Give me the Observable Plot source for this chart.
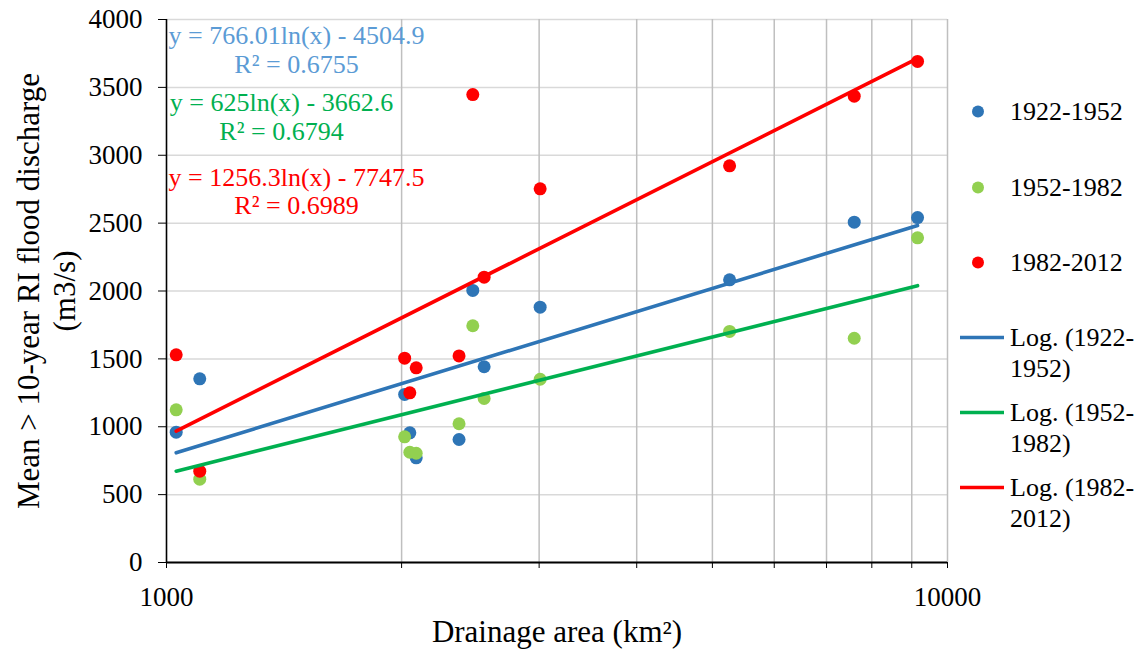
<!DOCTYPE html>
<html>
<head>
<meta charset="utf-8">
<script src="https://cdn.jsdelivr.net/npm/d3@7"></script>
<script src="https://cdn.jsdelivr.net/npm/@observablehq/plot@0.6"></script>
<style>
  html, body { margin: 0; padding: 0; background: #fff; }
  #wrap { position: relative; width: 1147px; height: 651px; font-family: "Liberation Serif", "Times New Roman", serif; color: #000; }
  #legend { position: absolute; left: 0; top: 0; width: 1147px; height: 651px; pointer-events: none; }
  .lg-item { position: absolute; font-size: 26px; line-height: 31px; white-space: nowrap; }
</style>
</head>
<body>
<div id="wrap"></div>
<script>
// ---- data ----
const areas   = [1029, 1103, 2018, 2049, 2088, 2369, 2467, 2551, 3009, 5260, 7596, 9155];
const q1922   = [960, 1353, 1238, 955, 771, 906, 2004, 1442, 1881, 2082, 2507, 2541];
const q1952   = [1125, 614, 926, 812, 805, 1022, 1744, 1208, 1350, 1702, 1652, 2392];
const q1982   = [1530, 673, 1505, 1250, 1434, 1522, 3447, 2102, 2753, 2922, 3435, 3691];

const periods = ["1922-1952", "1952-1982", "1982-2012"];
const trendLabels = ["Log. (1922-\n1952)", "Log. (1952-\n1982)", "Log. (1982-\n2012)"];

// logarithmic trend lines: endpoints (at smallest and largest drainage area)
const trendAreas = [1029, 9155];
const trend1922  = [808, 2483];
const trend1952  = [673, 2039];
const trend1982  = [967, 3713];

const equations = [
  "y = 766.01ln(x) - 4504.9\nR² = 0.6755",
  "y = 625ln(x) - 3662.6\nR² = 0.6794",
  "y = 1256.3ln(x) - 7747.5\nR² = 0.6989"
];

const yTicks = [0, 500, 1000, 1500, 2000, 2500, 3000, 3500, 4000];
const xTicks = [1000, 2000, 3000, 4000, 5000, 6000, 7000, 8000, 9000, 10000];
const xLabelled = [1000, 10000];

// ---- styles ----
const dotColors   = ["#2E75B6", "#92D050", "#FF0000"];
const lineColors  = ["#2E75B6", "#00B050", "#FF0000"];
const eqColors    = ["#5B9BD5", "#00B050", "#FF0000"];

// ---- tables ----
const seriesVals = [q1922, q1952, q1982];
const points = [];
seriesVals.forEach((vals, s) => vals.forEach((v, i) => points.push({period: periods[s], area: areas[i], q: v, s})));
const trends = [];
[trend1922, trend1952, trend1982].forEach((vals, s) => vals.forEach((v, i) => trends.push({period: periods[s], area: trendAreas[i], q: v, s})));
const eqs = equations.map((t, s) => ({t, s}));

const eqPos = [{dx: 130, dy: 30}, {dx: 115, dy: 97}, {dx: 130, dy: 171.5}];

const chart = Plot.plot({
  width: 1147,
  height: 651,
  marginLeft: 166,
  marginRight: 200,
  marginTop: 19,
  marginBottom: 89,
  style: {fontFamily: "Liberation Serif, Times New Roman, serif", fontSize: "26px", color: "#000", background: "#fff"},
  x: {type: "log", domain: [1000, 10000]},
  y: {domain: [0, 4000]},
  marks: [
    Plot.gridY(yTicks, {stroke: "#D9D9D9", strokeOpacity: 1, strokeWidth: 1.5}),
    Plot.gridX(xTicks, {stroke: "#BFBFBF", strokeOpacity: 1, strokeWidth: 1.5}),
    Plot.axisY(yTicks, {tickSize: 8, tickPadding: 16, fontSize: 27, label: null, tickFormat: d => String(d)}),
    Plot.axisX(xTicks, {tickSize: 6, tickPadding: 18, fontSize: 27, label: null,
      tickFormat: d => xLabelled.includes(d) ? String(d) : ""}),
    Plot.ruleX([1000], {stroke: "#000", strokeWidth: 1.5}),
    Plot.ruleY([0], {stroke: "#000", strokeWidth: 2}),
    ...[0, 1, 2].map(s => Plot.dot(points.filter(d => d.s === s), {x: "area", y: "q", r: 6.5, fill: dotColors[s], stroke: "none"})),
    ...[0, 1, 2].map(s => Plot.line(trends.filter(d => d.s === s), {x: "area", y: "q", stroke: lineColors[s], strokeWidth: 3.6})),
    ...[0, 1, 2].map(s => Plot.text([eqs[s]], {text: "t", frameAnchor: "top-left", textAnchor: "middle", lineAnchor: "middle",
      dx: eqPos[s].dx, dy: eqPos[s].dy, fill: eqColors[s], fontSize: 26, lineHeight: 1.08})),
    Plot.text(["Mean > 10-year RI flood discharge\n(m3/s)"], {frameAnchor: "left", rotate: -90, dx: -121, textAnchor: "middle",
      lineAnchor: "middle", fontSize: 31, lineHeight: 1.15}),
    Plot.text(["Drainage area (km²)"], {frameAnchor: "bottom", dy: 70, textAnchor: "middle", lineAnchor: "middle", fontSize: 31})
  ]
});

const wrap = document.getElementById("wrap");
wrap.appendChild(chart);

// ---- legend (right side) ----
const legend = d3.select(wrap).append("div").attr("id", "legend");
const dotRows = [111, 187, 262];
periods.forEach((p, s) => {
  const item = legend.append("div").attr("class", "lg-item")
    .style("left", "966px").style("top", (dotRows[s] - 15.5) + "px")
    .style("display", "flex").style("align-items", "center");
  item.append("svg").attr("width", 24).attr("height", 31).style("margin-right", "20px")
    .append("circle").attr("cx", 12).attr("cy", 15.5).attr("r", 6).attr("fill", dotColors[s]);
  item.append("span").text(p);
});
const lineRows = [337, 412, 487];
trendLabels.forEach((t, s) => {
  const item = legend.append("div").attr("class", "lg-item")
    .style("left", "958px").style("top", (lineRows[s] - 15.5) + "px")
    .style("display", "flex").style("align-items", "flex-start");
  item.append("svg").attr("width", 52).attr("height", 31)
    .append("line").attr("x1", 2).attr("x2", 46).attr("y1", 15.5).attr("y2", 15.5)
    .attr("stroke", lineColors[s]).attr("stroke-width", 3.6);
  item.append("span").style("white-space", "pre").text(t);
});
</script>
</body>
</html>
